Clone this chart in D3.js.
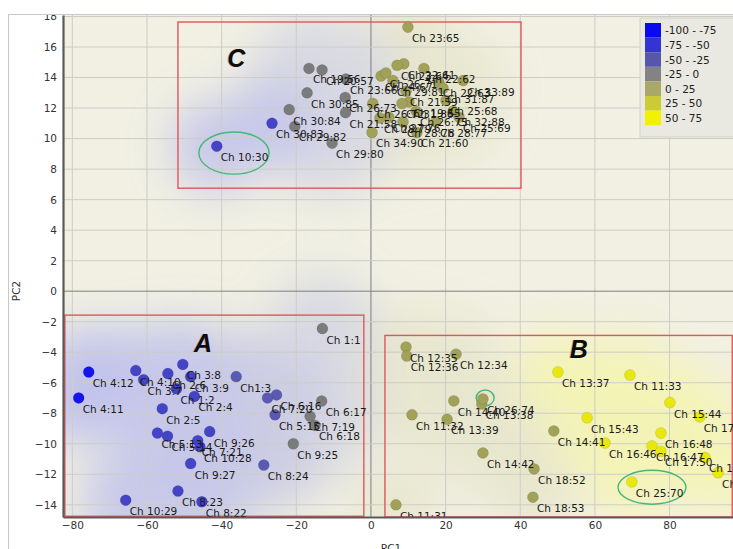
<!DOCTYPE html>
<html>
<head>
<meta charset="utf-8">
<script src="https://cdn.jsdelivr.net/npm/d3@7"></script>
<style>
  body { margin: 0; background: #fff; }
  svg { display: block; font-family: "DejaVu Sans", Verdana, sans-serif; }
</style>
</head>
<body>
<svg id="chart" width="733" height="549"></svg>
<script>
// PCA scores per chapter: label, PC1, PC2 and the colour score used for the class
const labels = [
  "Ch 1:1","Ch 1:2","Ch1:3","Ch 2:4","Ch 2:5","Ch 2:6","Ch 3:7","Ch 3:8","Ch 3:9","Ch 4:10",
  "Ch 4:11","Ch 4:12","Ch 5:13","Ch 5:14","Ch 5:15","Ch 6:16","Ch 6:17","Ch 6:18","Ch 7:19","Ch 7:20",
  "Ch 7:21","Ch 8:22","Ch 8:23","Ch 8:24","Ch 9:25","Ch 9:26","Ch 9:27","Ch 10:28","Ch 10:29","Ch 10:30",
  "Ch 11:31","Ch 11:32","Ch 11:33","Ch 12:34","Ch 12:35","Ch 12:36","Ch 13:37","Ch 13:38","Ch 13:39","Ch 14:40",
  "Ch 14:41","Ch 14:42","Ch 15:43","Ch 15:44","Ch 16:46","Ch 16:47","Ch 16:48","Ch 17:49","Ch 17:50","Ch 17:51",
  "Ch 18:52","Ch 18:53","Ch 18:54","Ch 19:55","Ch 19:56","Ch 20:57","Ch 21:58","Ch 21:59","Ch 21:60","Ch 22:61",
  "Ch 22:62","Ch 22:63","Ch 23:64","Ch 23:65","Ch 23:66","Ch 24:67","Ch 25:68","Ch 25:69","Ch 25:70","Ch 26:71",
  "Ch 26:72","Ch 26:73","Ch 26:74","Ch 26:75","Ch 27:76","Ch 28:77","Ch 28:78","Ch 28:79","Ch 29:80","Ch 29:81",
  "Ch 29:82","Ch 30:83","Ch 30:84","Ch 30:85","Ch 31:86","Ch 31:87","Ch 32:88","Ch 33:89","Ch 34:90"
];
const pc1 = [
  -13.0,-52.1,-36.1,-47.3,-55.9,-54.4,-60.9,-50.4,-48.3,-63.0,
  -78.3,-75.6,-57.2,-54.5,-25.7,-25.3,-13.2,-15.0,-16.3,-27.7,
  -46.4,-45.3,-51.7,-28.7,-20.8,-43.2,-48.3,-45.8,-65.7,-41.3,
  6.7,11.0,69.4,22.8,9.4,9.6,50.1,29.7,20.4,22.2,
  49.0,30.0,57.9,80.1,62.7,75.3,77.7,88.1,77.7,89.5,
  43.7,43.4,93.0,10.2,-16.6,-13.1,-6.8,9.4,12.3,8.8,
  14.2,18.2,7.0,9.9,-6.7,2.7,20.1,23.6,69.9,4.0,
  0.5,-6.9,30.0,12.1,4.8,17.4,8.6,2.4,-10.4,5.9,
  -20.4,-26.5,-21.9,-17.1,8.3,19.3,22.0,24.7,0.3
];
const pc2 = [
  -2.45,-6.4,-5.6,-6.9,-7.7,-5.4,-5.8,-4.8,-5.6,-5.2,
  -7.0,-5.3,-9.3,-9.5,-8.1,-6.8,-7.2,-8.8,-8.2,-7.0,
  -9.8,-13.8,-13.1,-11.4,-10.0,-9.2,-11.3,-10.2,-13.7,9.5,
  -14.0,-8.1,-5.5,-4.13,-3.66,-4.25,-5.3,-7.4,-8.4,-7.19,
  -9.16,-10.6,-8.3,-7.3,-9.95,-10.15,-9.3,-8.24,-10.5,-10.9,
  -11.65,-13.5,-11.9,12.4,14.6,14.5,11.7,13.1,10.4,14.9,
  14.6,13.7,14.8,17.3,13.9,14.1,12.5,11.4,-12.5,14.3,
  12.3,12.7,-7.06,11.8,11.4,11.1,11.1,11.35,9.7,13.8,
  10.8,11.0,11.9,13.0,12.3,13.3,11.8,13.8,10.4
];
const score = [
  -10,-60,-40,-60,-60,-60,-60,-60,-60,-60,
  -85,-85,-60,-60,-40,-40,-10,-10,-10,-40,
  -60,-60,-60,-40,-10,-60,-60,-60,-60,-60,
  10,10,60,10,10,10,60,10,10,10,
  10,10,60,60,60,60,60,60,60,60,
  10,10,60,10,-10,-10,-10,10,10,10,
  10,10,10,10,-10,10,10,10,60,10,
  10,-10,10,10,10,10,10,10,-10,10,
  -10,-60,-10,-10,10,10,10,10,10
];

// Colour classes
const classBreaks = [-75, -50, -25, 0, 25, 50];
const classNames = ["-100 - -75","-75 - -50","-50 - -25","-25 - 0","0 - 25","25 - 50","50 - 75"];
const swatchColors = ["#0a0af0","#3434d2","#5656ac","#838383","#a9a866","#cbcb34","#f2f200"];
const pointColors  = ["#1414ee","#4444c6","#5a5ab4","#7b7b7b","#a2a158","#c8c83a","#e8e810"];
const hazeColors   = ["#b0b2ef","#b8b9ec","#bfc0e3","#cfd0e2","#e4e3c6","#f0f0b4","#f5f5a6"];
const hazeRadius   = [46, 46, 48, 54, 40, 40, 42];

// Axis ticks
const xTicks = [-80, -60, -40, -20, 0, 20, 40, 60, 80];
const yTicks = [-14, -12, -10, -8, -6, -4, -2, 0, 2, 4, 6, 8, 10, 12, 14, 16, 18];

// Cluster boxes (PC1 min/max, PC2 min/max) and their letters
const boxNames = ["C", "A", "B"];
const boxX0 = [-51.7, -82.0, 3.75];
const boxX1 = [40.2, -1.9, 96.8];
const boxY0 = [6.75, -14.75, -14.8];
const boxY1 = [17.64, -1.57, -2.9];
const letterX = [-36.1, -45.0, 55.7];
const letterY = [14.7, -4.0, -4.4];

// Highlighted outliers (centre, radii in data units)
const ringCx = [-36.7, 75.3, 30.6];
const ringCy = [9.05, -12.85, -7.0];
const ringRx = [9.4, 9.1, 2.4];
const ringRy = [1.38, 1.11, 0.52];

const svg = d3.select("#chart");
const W = 733, H = 549;
const x = d3.scaleLinear().domain([-82.5, 97]).range([63, 733]);
const y = d3.scaleLinear().domain([-14.8, 18.1]).range([517, 15]);
const colorClass = d3.scaleThreshold().domain(classBreaks).range(d3.range(7));

const points = labels.map((l, i) => ({ label: l, px: pc1[i], py: pc2[i], cls: colorClass(score[i]) }));

const defs = svg.append("defs");
defs.append("clipPath").attr("id", "panelClip")
  .append("rect").attr("x", 8).attr("y", 15).attr("width", W - 8).attr("height", H - 15);
defs.append("clipPath").attr("id", "plotClip")
  .append("rect").attr("x", 63).attr("y", 15).attr("width", W - 63).attr("height", 502);
const blur = defs.append("filter").attr("id", "haze")
  .attr("x", "-50%").attr("y", "-50%").attr("width", "200%").attr("height", "200%");
blur.append("feGaussianBlur").attr("stdDeviation", 22);

// Panel frame
svg.append("rect").attr("x", 8.5).attr("y", 14.5).attr("width", W).attr("height", H)
  .attr("fill", "#fff").attr("stroke", "#c9c9c9");

const panel = svg.append("g").attr("clip-path", "url(#panelClip)");
const plot = panel.append("g").attr("clip-path", "url(#plotClip)");

// Plot background
plot.append("rect").attr("x", 63).attr("y", 15).attr("width", W - 63).attr("height", 502)
  .attr("fill", "#f1f0e3");

// Density haze around the scores
const hazeG = plot.append("g").attr("filter", "url(#haze)").attr("opacity", 0.72);
const order = [4, 3, 6, 5, 2, 1, 0];
order.forEach(c => {
  hazeG.selectAll(null).data(points.filter(p => p.cls === c)).enter()
    .append("circle")
    .attr("cx", d => x(d.px)).attr("cy", d => y(d.py))
    .attr("r", hazeRadius[c])
    .attr("fill", hazeColors[c]);
});

// Grid
plot.append("g").selectAll("line").data(xTicks).enter().append("line")
  .attr("x1", d => x(d)).attr("x2", d => x(d)).attr("y1", 15).attr("y2", 517)
  .attr("stroke", d => d === 0 ? "#7e7e7e" : "#cdcdc6").attr("stroke-width", 1);
plot.append("g").selectAll("line").data(yTicks).enter().append("line")
  .attr("x1", 63).attr("x2", W).attr("y1", d => y(d)).attr("y2", d => y(d))
  .attr("stroke", d => d === 0 ? "#7e7e7e" : "#cdcdc6").attr("stroke-width", 1);

// Cluster boxes
plot.append("g").selectAll("rect").data(boxNames).enter().append("rect")
  .attr("x", (d, i) => x(boxX0[i])).attr("y", (d, i) => y(boxY1[i]))
  .attr("width", (d, i) => x(boxX1[i]) - x(boxX0[i]))
  .attr("height", (d, i) => y(boxY0[i]) - y(boxY1[i]))
  .attr("fill", "none").attr("stroke", "#e0575a").attr("stroke-width", 1.4);

// Outlier rings
plot.append("g").selectAll("ellipse").data(ringCx).enter().append("ellipse")
  .attr("cx", (d, i) => x(ringCx[i])).attr("cy", (d, i) => y(ringCy[i]))
  .attr("rx", (d, i) => x(ringCx[i] + ringRx[i]) - x(ringCx[i]))
  .attr("ry", (d, i) => y(ringCy[i]) - y(ringCy[i] + ringRy[i]))
  .attr("fill", "none").attr("stroke", "#45b878").attr("stroke-width", 1.4);

// Points
plot.append("g").selectAll("circle").data(points).enter().append("circle")
  .attr("cx", d => x(d.px)).attr("cy", d => y(d.py)).attr("r", 5.5)
  .attr("fill", d => pointColors[d.cls])
  .attr("stroke", "rgba(0,0,0,0.12)").attr("stroke-width", 0.8);

// Point labels
plot.append("g").selectAll("text").data(points).enter().append("text")
  .attr("x", d => x(d.px) + 4).attr("y", d => y(d.py) + 15)
  .attr("font-size", 10.5).attr("fill", "#1a1a1a")
  .text(d => d.label);

// Cluster letters
const letters = plot.append("g").attr("font-family", "'Liberation Sans', Arial, sans-serif")
  .attr("font-weight", "bold").attr("font-style", "italic").attr("font-size", 25)
  .attr("text-anchor", "middle");
letters.selectAll(null).data(boxNames).enter().append("text")
  .attr("x", (d, i) => x(letterX[i]) - 1).attr("y", (d, i) => y(letterY[i]))
  .attr("fill", "#c07a3a").attr("opacity", 0.45).text(d => d);
letters.selectAll(null).data(boxNames).enter().append("text")
  .attr("x", (d, i) => x(letterX[i])).attr("y", (d, i) => y(letterY[i]))
  .attr("fill", "#0c0c0c").text(d => d);

// Axes
const yAxis = panel.append("g").attr("transform", "translate(63,0)")
  .call(d3.axisLeft(y).tickValues(yTicks).tickSize(0).tickPadding(6).tickFormat(d3.format("d")));
const xAxis = panel.append("g").attr("transform", "translate(0,517)")
  .call(d3.axisBottom(x).tickValues(xTicks).tickSize(0).tickPadding(5).tickFormat(d3.format("d")));
[xAxis, yAxis].forEach(a => {
  a.attr("font-family", "'DejaVu Sans', Verdana, sans-serif").attr("font-size", 10.5);
  a.select(".domain").attr("stroke", "#5a5a5a").attr("stroke-width", 2.2);
  a.selectAll("text").attr("fill", "#333");
});

// Axis titles
panel.append("text").attr("transform", "translate(20,291) rotate(-90)")
  .attr("text-anchor", "middle").attr("font-size", 10.5).attr("fill", "#333").text("PC2");
panel.append("text").attr("x", 391).attr("y", 552)
  .attr("text-anchor", "middle").attr("font-size", 10.5).attr("fill", "#333").text("PC1");

// Legend
const legend = panel.append("g").attr("transform", "translate(640,18)");
legend.append("rect").attr("width", 94).attr("height", 119)
  .attr("fill", "#e9e9e1").attr("stroke", "#d2d2cc");
const rowH = 14.6;
legend.selectAll("rect.sw").data(classNames).enter().append("rect").attr("class", "sw")
  .attr("x", 5).attr("y", (d, i) => 5 + i * rowH).attr("width", 16).attr("height", rowH)
  .attr("fill", (d, i) => swatchColors[i]);
legend.selectAll("text").data(classNames).enter().append("text")
  .attr("x", 25).attr("y", (d, i) => 5 + i * rowH + rowH / 2 + 4)
  .attr("font-size", 10.5).attr("fill", "#222").text(d => d);
</script>
</body>
</html>
